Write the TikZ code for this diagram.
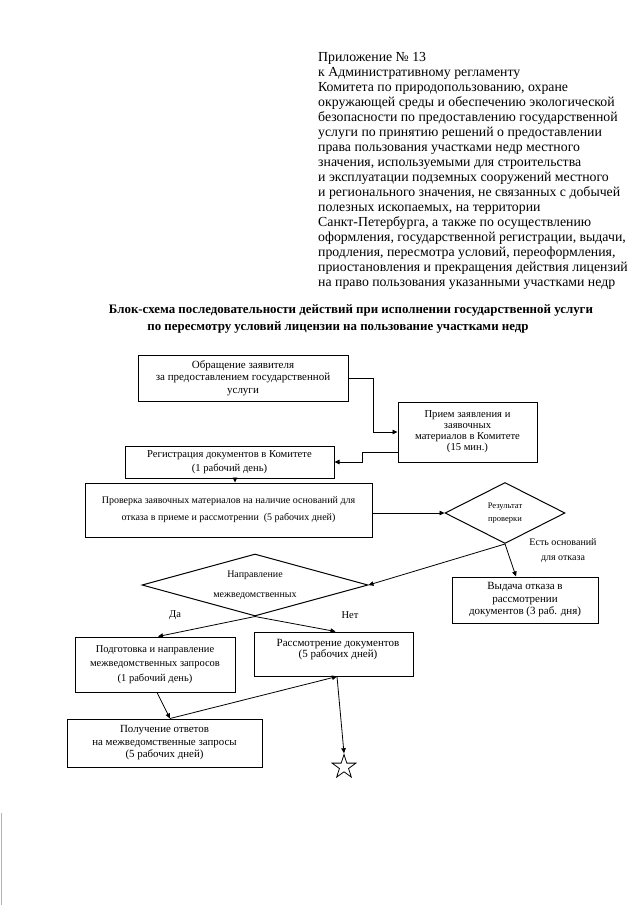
\documentclass[tikz,border=0pt]{standalone}
\usepackage{fontspec}
\setmainfont{Liberation Serif}
\usetikzlibrary{arrows.meta,shapes.geometric,calc}
\begin{document}
\begin{tikzpicture}[x=1pt,y=-1pt,
  box/.style={draw, line width=1pt, inner sep=0pt, align=center},
  dia/.style={draw, diamond, line width=1pt, inner sep=0pt},
  txt/.style={inner sep=0pt, align=center},
  arr/.style={line width=0.8pt, -{Triangle[length=5pt,width=4.5pt]}},
  ln/.style={line width=0.8pt}]
\useasboundingbox (0,0) rectangle (640,905);
% header
\node[anchor=north west, align=left, inner sep=0pt, font=\fontsize{13.8}{15}\selectfont] (hdr) at (318,52.6) {%
Приложение № 13\\
к Административному регламенту\\
Комитета по природопользованию, охране\\
окружающей среды и обеспечению экологической\\
безопасности по предоставлению государственной\\
услуги по принятию решений о предоставлении\\
права пользования участками недр местного\\
значения, используемыми для строительства\\
и эксплуатации подземных сооружений местного\\
и регионального значения, не связанных с добычей\\
полезных ископаемых, на территории\\
Санкт-Петербурга, а также по осуществлению\\
оформления, государственной регистрации, выдачи,\\
продления, пересмотра условий, переоформления,\\
приостановления и прекращения действия лицензий\\
на право пользования указанными участками недр};
% title
\node[txt, font=\fontsize{12.9}{17}\selectfont\bfseries] (tit1) at (351,310) {Блок-схема последовательности действий при исполнении государственной услуги};
\node[txt, font=\fontsize{12.9}{17}\selectfont\bfseries] (tit2) at (338,327) {по пересмотру условий лицензии на пользование участками недр};
% boxes
\node[box, minimum width=210, minimum height=46, font=\fontsize{11}{12.5}\selectfont] (b1) at (243,378) {Обращение заявителя\\за предоставлением государственной\\услуги};
\node[box, minimum width=139, minimum height=60, font=\fontsize{10.6}{11}\selectfont] (b2) at (467.5,432) {Прием заявления и\\заявочных\\материалов в Комитете\\(15 мин.)};
\node[box, minimum width=209, minimum height=32, font=\fontsize{10.6}{14.5}\selectfont] (b3) at (229.5,462) {Регистрация документов в Комитете\\(1 рабочий день)};
\node[box, minimum width=287, minimum height=54, font=\fontsize{10}{17}\selectfont] (b4) at (228.5,510) {Проверка заявочных материалов на наличие оснований для\\отказа в приеме и рассмотрении \ (5 рабочих дней)};
\node[dia, minimum width=120, minimum height=61] (d1) at (505,513) {};
\node[txt, font=\fontsize{8.5}{13}\selectfont] (t1) at (d1.center) {Результат\\проверки};
\node[txt, font=\fontsize{10}{15}\selectfont] (lab) at (563,550.5) {Есть оснований\\для отказа};
\node[box, minimum width=146, minimum height=46, font=\fontsize{11}{12.5}\selectfont] (b5) at (525,600) {Выдача отказа в\\рассмотрении\\документов (3 раб. дня)};
\node[dia, minimum width=226, minimum height=62] (d2) at (255,585) {};
\node[txt, font=\fontsize{10}{20}\selectfont] (t2) at (d2.center) {Направление\\межведомственных};
\node[txt, font=\fontsize{10.5}{12}\selectfont] (yes) at (175,615) {Да};
\node[txt, font=\fontsize{10.5}{12}\selectfont] (no) at (350,615) {Нет};
\node[box, minimum width=160, minimum height=55, font=\fontsize{10.5}{14.5}\selectfont] (b6) at (155,664.5) {Подготовка и направление\\межведомственных запросов\\(1 рабочий день)};
\node[box, minimum width=159, minimum height=44] (b7) at (333.5,654) {};
\node[txt, font=\fontsize{11}{11.5}\selectfont] (t7) at (338,649.5) {Рассмотрение документов\\(5 рабочих дней)};
\node[box, minimum width=195, minimum height=48, font=\fontsize{10.9}{12.5}\selectfont] (b8) at (164.5,743) {Получение ответов\\на межведомственные запросы\\(5 рабочих дней)};
\node[star, star points=5, star point ratio=2.6, draw, line width=0.8pt, minimum size=25, inner sep=0pt] (end) at (344,767) {};
% connectors
\draw[arr] (b1.east) -- ++(25,0) |- (b2.west);
\draw[arr] ($(b2.west)+(0,20)$) -- ++(-35,0) |- (b3.east);
\draw[arr] ($(b3.south)+(5.5,0)$) -- ($(b4.north)+(6.5,0)$);
\draw[arr] (b4.east |- d1.west) -- (d1.west);
\draw[arr] (d1.south) -- (d2.east);
\draw[arr] (d1.south) -- ($(b5.north)+(-9,0)$);
\draw[arr] (d2.south) -- ($(b6.north)+(3,0)$);
\draw[arr] (d2.south) -- ($(b7.north)+(2,0)$);
\draw[arr] ($(b6.south)+(2,0)$) -- ($(b8.north)+(5.5,0)$);
\draw[arr] ($(b8.north)+(5.5,0)$) -- ($(b7.south)+(3.5,0)$);
\draw[arr] ($(b7.south)+(3.5,0)$) -- (end.north);
% scan edge
\draw[gray!60, line width=1pt] (1,813) -- (1,905);
\end{tikzpicture}
\end{document}
